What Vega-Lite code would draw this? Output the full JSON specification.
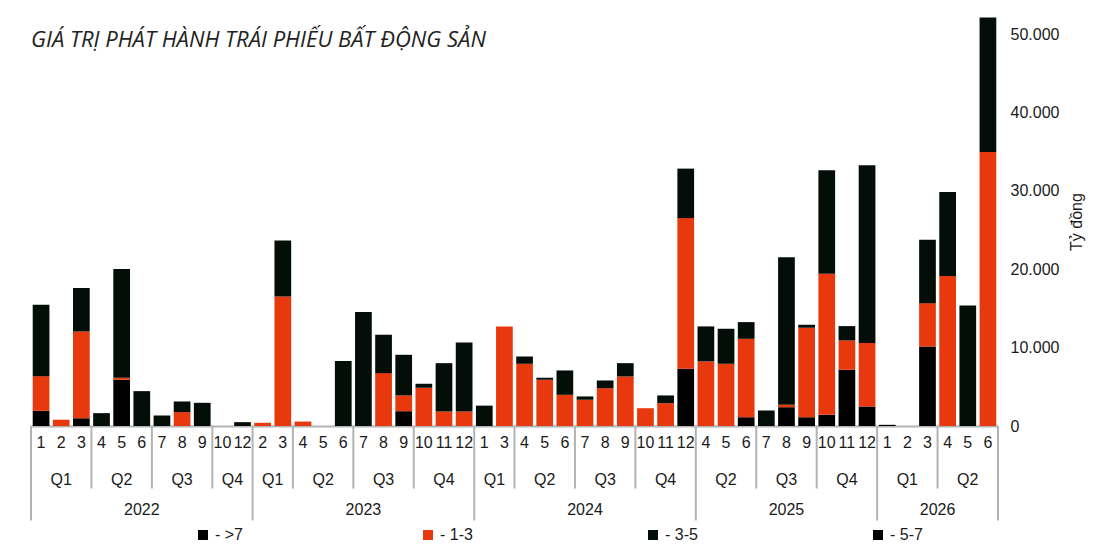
{
  "$schema": "https://vega.github.io/schema/vega-lite/v6.json",
  "width": 967,
  "height": 409,
  "padding": {"left": 30, "top": 17, "right": 5, "bottom": 5},
  "background": "white",
  "config": {
    "view": {"stroke": null},
    "font": "Liberation Sans",
    "text": {"font": "Liberation Sans", "fontSize": 16, "color": "#1a1a1a"}
  },
  "title": {
    "text": "GIÁ TRỊ PHÁT HÀNH TRÁI PHIẾU BẤT ĐỘNG SẢN",
    "anchor": "start",
    "frame": "group",
    "offset": -52,
    "baseline": "alphabetic",
    "font": "Open Sans",
    "fontStyle": "italic",
    "fontWeight": "normal",
    "fontSize": 22,
    "color": "#222222"
  },
  "datasets": {
    "bars": [
      {"m": "2022-01", "g": ">7", "v": 1940}, {"m": "2022-01", "g": "1-3", "v": 4420}, {"m": "2022-01", "g": "3-5", "v": 9120},
      {"m": "2022-02", "g": "1-3", "v": 800},
      {"m": "2022-03", "g": ">7", "v": 1000}, {"m": "2022-03", "g": "1-3", "v": 11070}, {"m": "2022-03", "g": "3-5", "v": 5530},
      {"m": "2022-04", "g": "3-5", "v": 1640},
      {"m": "2022-05", "g": ">7", "v": 5900}, {"m": "2022-05", "g": "1-3", "v": 250}, {"m": "2022-05", "g": "3-5", "v": 13900},
      {"m": "2022-06", "g": "3-5", "v": 4450},
      {"m": "2022-07", "g": "3-5", "v": 1340},
      {"m": "2022-08", "g": "1-3", "v": 1770}, {"m": "2022-08", "g": "3-5", "v": 1360},
      {"m": "2022-09", "g": "3-5", "v": 2960},
      {"m": "2022-12", "g": "3-5", "v": 490},
      {"m": "2023-02", "g": "1-3", "v": 410},
      {"m": "2023-03", "g": "1-3", "v": 16540}, {"m": "2023-03", "g": "3-5", "v": 7150},
      {"m": "2023-04", "g": "1-3", "v": 570},
      {"m": "2023-06", "g": "3-5", "v": 8280},
      {"m": "2023-07", "g": "3-5", "v": 14540},
      {"m": "2023-08", "g": "1-3", "v": 6750}, {"m": "2023-08", "g": "3-5", "v": 4900},
      {"m": "2023-09", "g": ">7", "v": 1890}, {"m": "2023-09", "g": "1-3", "v": 2010}, {"m": "2023-09", "g": "3-5", "v": 5190},
      {"m": "2023-10", "g": "1-3", "v": 4880}, {"m": "2023-10", "g": "3-5", "v": 510},
      {"m": "2023-11", "g": "1-3", "v": 1850}, {"m": "2023-11", "g": "3-5", "v": 6170},
      {"m": "2023-12", "g": "1-3", "v": 1850}, {"m": "2023-12", "g": "3-5", "v": 8810},
      {"m": "2024-01", "g": "3-5", "v": 2600},
      {"m": "2024-03", "g": "1-3", "v": 12710},
      {"m": "2024-04", "g": "1-3", "v": 7940}, {"m": "2024-04", "g": "3-5", "v": 930},
      {"m": "2024-05", "g": "1-3", "v": 5900}, {"m": "2024-05", "g": "3-5", "v": 250},
      {"m": "2024-06", "g": "1-3", "v": 3980}, {"m": "2024-06", "g": "3-5", "v": 3110},
      {"m": "2024-07", "g": "1-3", "v": 3350}, {"m": "2024-07", "g": "3-5", "v": 420},
      {"m": "2024-08", "g": "1-3", "v": 4830}, {"m": "2024-08", "g": "3-5", "v": 980},
      {"m": "2024-09", "g": "1-3", "v": 6320}, {"m": "2024-09", "g": "3-5", "v": 1700},
      {"m": "2024-10", "g": "1-3", "v": 2270},
      {"m": "2024-11", "g": "1-3", "v": 2910}, {"m": "2024-11", "g": "3-5", "v": 990},
      {"m": "2024-12", "g": ">7", "v": 7300}, {"m": "2024-12", "g": "1-3", "v": 19240}, {"m": "2024-12", "g": "3-5", "v": 6310},
      {"m": "2025-04", "g": "1-3", "v": 8240}, {"m": "2025-04", "g": "3-5", "v": 4470},
      {"m": "2025-05", "g": "1-3", "v": 7940}, {"m": "2025-05", "g": "3-5", "v": 4470},
      {"m": "2025-06", "g": ">7", "v": 1120}, {"m": "2025-06", "g": "1-3", "v": 10010}, {"m": "2025-06", "g": "3-5", "v": 2130},
      {"m": "2025-07", "g": "3-5", "v": 1980},
      {"m": "2025-08", "g": ">7", "v": 2400}, {"m": "2025-08", "g": "1-3", "v": 300}, {"m": "2025-08", "g": "3-5", "v": 18850},
      {"m": "2025-09", "g": ">7", "v": 1120}, {"m": "2025-09", "g": "1-3", "v": 11420}, {"m": "2025-09", "g": "3-5", "v": 380},
      {"m": "2025-10", "g": ">7", "v": 1430}, {"m": "2025-10", "g": "1-3", "v": 18010}, {"m": "2025-10", "g": "3-5", "v": 13190},
      {"m": "2025-11", "g": ">7", "v": 7180}, {"m": "2025-11", "g": "1-3", "v": 3740}, {"m": "2025-11", "g": "3-5", "v": 1830},
      {"m": "2025-12", "g": ">7", "v": 2490}, {"m": "2025-12", "g": "1-3", "v": 8090}, {"m": "2025-12", "g": "3-5", "v": 22690},
      {"m": "2026-01", "g": ">7", "v": 150},
      {"m": "2026-03", "g": ">7", "v": 10150}, {"m": "2026-03", "g": "1-3", "v": 5530}, {"m": "2026-03", "g": "3-5", "v": 8090},
      {"m": "2026-04", "g": "1-3", "v": 19130}, {"m": "2026-04", "g": "3-5", "v": 10730},
      {"m": "2026-05", "g": "3-5", "v": 15390},
      {"m": "2026-06", "g": "1-3", "v": 34960}, {"m": "2026-06", "g": "3-5", "v": 17170}
    ],
    "quarterLines": [
      {"m": "2022-04"}, {"m": "2022-07"}, {"m": "2022-10"},
      {"m": "2023-04"}, {"m": "2023-07"}, {"m": "2023-10"},
      {"m": "2024-04"}, {"m": "2024-07"}, {"m": "2024-10"},
      {"m": "2025-07"}, {"m": "2025-10"},
      {"m": "2026-04"}
    ],
    "yearLines": [
      {"m": "2022-01"}, {"m": "2023-02"}, {"m": "2024-01"}, {"m": "2025-04"}, {"m": "2026-01"}
    ],
    "endLine": [{"m": "2026-06"}],
    "quarters3": [
      {"m": "2022-02", "q": "Q1"}, {"m": "2022-05", "q": "Q2"}, {"m": "2022-08", "q": "Q3"},
      {"m": "2023-05", "q": "Q2"}, {"m": "2023-08", "q": "Q3"}, {"m": "2023-11", "q": "Q4"},
      {"m": "2024-05", "q": "Q2"}, {"m": "2024-08", "q": "Q3"}, {"m": "2024-11", "q": "Q4"},
      {"m": "2025-05", "q": "Q2"}, {"m": "2025-08", "q": "Q3"}, {"m": "2025-11", "q": "Q4"},
      {"m": "2026-02", "q": "Q1"}, {"m": "2026-05", "q": "Q2"}
    ],
    "quarters2": [
      {"m": "2022-10", "q": "Q4"}, {"m": "2023-02", "q": "Q1"}, {"m": "2024-01", "q": "Q1"}
    ],
    "yearsOdd": [
      {"m": "2022-06", "y": "2022"}, {"m": "2023-07", "y": "2023"}, {"m": "2024-07", "y": "2024"}, {"m": "2025-08", "y": "2025"}
    ],
    "yearsEven": [
      {"m": "2026-03", "y": "2026"}
    ]
  },
  "layer": [
    {
      "data": {"name": "bars"},
      "transform": [
        {"calculate": "indexof(['>7', '1-3', '3-5', '5-7'], datum.g)", "as": "k"}
      ],
      "mark": {"type": "bar", "width": {"band": 0.83}},
      "encoding": {
        "x": {
          "field": "m",
          "type": "nominal",
          "scale": {
            "domain": [
              "2022-01", "2022-02", "2022-03", "2022-04", "2022-05", "2022-06", "2022-07", "2022-08", "2022-09", "2022-10", "2022-12",
              "2023-02", "2023-03", "2023-04", "2023-05", "2023-06", "2023-07", "2023-08", "2023-09", "2023-10", "2023-11", "2023-12",
              "2024-01", "2024-03", "2024-04", "2024-05", "2024-06", "2024-07", "2024-08", "2024-09", "2024-10", "2024-11", "2024-12",
              "2025-04", "2025-05", "2025-06", "2025-07", "2025-08", "2025-09", "2025-10", "2025-11", "2025-12",
              "2026-01", "2026-02", "2026-03", "2026-04", "2026-05", "2026-06"
            ],
            "paddingInner": 0,
            "paddingOuter": 0
          },
          "axis": {
            "title": null,
            "labelExpr": "toNumber(slice(datum.value, 5))",
            "labelAngle": 0,
            "labelFontSize": 16,
            "labelColor": "#1a1a1a",
            "labelPadding": 8,
            "ticks": false,
            "domainColor": "#b3b3b3",
            "domainWidth": 2
          }
        },
        "y": {
          "field": "v",
          "type": "quantitative",
          "stack": "zero",
          "scale": {"domain": [0, 52200], "nice": false},
          "axis": {
            "orient": "right",
            "title": "Tỷ đồng",
            "titleAngle": 270,
            "titleFontSize": 16,
            "titleFontWeight": "normal",
            "titleColor": "#1a1a1a",
            "titlePadding": 26,
            "values": [0, 10000, 20000, 30000, 40000, 50000],
            "labelExpr": "replace(format(datum.value, ','), ',', '.')",
            "labelFontSize": 16,
            "labelColor": "#1a1a1a",
            "labelPadding": 12,
            "ticks": false,
            "domain": false,
            "grid": false
          }
        },
        "color": {
          "field": "g",
          "type": "nominal",
          "scale": {
            "domain": [">7", "1-3", "3-5", "5-7"],
            "range": ["#000000", "#e8380d", "#020e07", "#000000"]
          },
          "legend": {
            "orient": "none",
            "legendX": 164,
            "legendY": 510,
            "direction": "horizontal",
            "columns": 4,
            "columnPadding": 172,
            "gridAlign": "all",
            "title": null,
            "symbolType": "square",
            "symbolSize": 100,
            "symbolStrokeWidth": 0,
            "labelExpr": "'- ' + datum.label",
            "labelFontSize": 16,
            "labelColor": "#1a1a1a"
          }
        },
        "order": {"field": "k", "type": "quantitative"}
      }
    },
    {
      "data": {"name": "quarterLines"},
      "mark": {"type": "rule", "color": "#b3b3b3", "strokeWidth": 2},
      "encoding": {
        "x": {"field": "m", "type": "nominal", "bandPosition": 0, "title": null},
        "y": {"datum": 0, "type": "quantitative"},
        "y2": {"datum": -7980}
      }
    },
    {
      "data": {"name": "yearLines"},
      "mark": {"type": "rule", "color": "#b3b3b3", "strokeWidth": 2},
      "encoding": {
        "x": {"field": "m", "type": "nominal", "bandPosition": 0, "title": null},
        "y": {"datum": 0, "type": "quantitative"},
        "y2": {"datum": -12060}
      }
    },
    {
      "data": {"name": "endLine"},
      "mark": {"type": "rule", "color": "#b3b3b3", "strokeWidth": 2},
      "encoding": {
        "x": {"field": "m", "type": "nominal", "bandPosition": 1, "title": null},
        "y": {"datum": 0, "type": "quantitative"},
        "y2": {"datum": -12060}
      }
    },
    {
      "data": {"name": "quarters3"},
      "mark": {"type": "text", "baseline": "middle"},
      "encoding": {
        "x": {"field": "m", "type": "nominal", "bandPosition": 0.5, "title": null},
        "y": {"datum": -6830, "type": "quantitative"},
        "text": {"field": "q"}
      }
    },
    {
      "data": {"name": "quarters2"},
      "mark": {"type": "text", "baseline": "middle"},
      "encoding": {
        "x": {"field": "m", "type": "nominal", "bandPosition": 1, "title": null},
        "y": {"datum": -6830, "type": "quantitative"},
        "text": {"field": "q"}
      }
    },
    {
      "data": {"name": "yearsOdd"},
      "mark": {"type": "text", "baseline": "middle"},
      "encoding": {
        "x": {"field": "m", "type": "nominal", "bandPosition": 0.5, "title": null},
        "y": {"datum": -10660, "type": "quantitative"},
        "text": {"field": "y"}
      }
    },
    {
      "data": {"name": "yearsEven"},
      "mark": {"type": "text", "baseline": "middle"},
      "encoding": {
        "x": {"field": "m", "type": "nominal", "bandPosition": 1, "title": null},
        "y": {"datum": -10660, "type": "quantitative"},
        "text": {"field": "y"}
      }
    }
  ]
}
